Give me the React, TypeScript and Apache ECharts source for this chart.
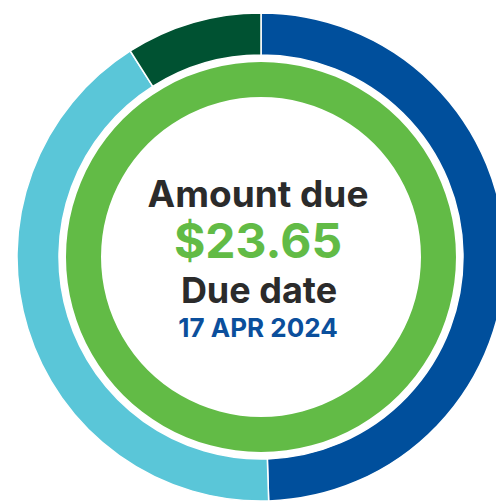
import React, { useEffect, useRef } from "react";
import * as echarts from "echarts";

const segmentNames = ["Paid", "Remaining", "Overdue"];
const segmentValues = [49.5, 41.5, 9];
const segmentColors = ["#004f9c", "#5ac6d8", "#005232"];
const innerValues = [1];
const labels = ["Amount due", "$23.65", "Due date", "17 APR 2024"];

export default function App() {
  const ref = useRef<HTMLDivElement>(null);
  useEffect(() => {
    document.body.style.margin = "0";
    const chart = echarts.init(ref.current!, null, { renderer: "svg" });
    const font = "Inter, 'Noto Sans', sans-serif";
    chart.setOption({
      animation: false,
      series: [
        {
          type: "pie",
          center: [261, 257],
          radius: [202, 244],
          startAngle: 90,
          clockwise: true,
          silent: true,
          label: { show: false },
          labelLine: { show: false },
          itemStyle: { borderColor: "#ffffff", borderWidth: 1.5 },
          data: segmentNames.map((n, i) => ({
            name: n,
            value: segmentValues[i],
            itemStyle: { color: segmentColors[i] },
          })),
        },
        {
          type: "pie",
          center: [261, 257],
          radius: [160, 195],
          silent: true,
          label: { show: false },
          labelLine: { show: false },
          data: innerValues.map((v) => ({ name: "due", value: v, itemStyle: { color: "#62bb46" } })),
        },
      ],
      graphic: [
        {
          type: "text",
          x: 258,
          y: 193,
          style: { text: labels[0], fill: "#2b2b2b", font: `700 37px ${font}`, textAlign: "center", textVerticalAlign: "middle" },
        },
        {
          type: "text",
          x: 258,
          y: 240,
          style: { text: labels[1], fill: "#62bb46", font: `700 48px ${font}`, textAlign: "center", textVerticalAlign: "middle" },
        },
        {
          type: "text",
          x: 259,
          y: 290,
          style: { text: labels[2], fill: "#2b2b2b", font: `700 36px ${font}`, textAlign: "center", textVerticalAlign: "middle" },
        },
        {
          type: "text",
          x: 258,
          y: 327,
          style: { text: labels[3], fill: "#0b4f9c", font: `700 26px ${font}`, textAlign: "center", textVerticalAlign: "middle" },
        },
      ],
    });
    return () => chart.dispose();
  }, []);
  return <div ref={ref} style={{ position: "absolute", left: 0, top: 0, width: 496, height: 502 }} />;
}
